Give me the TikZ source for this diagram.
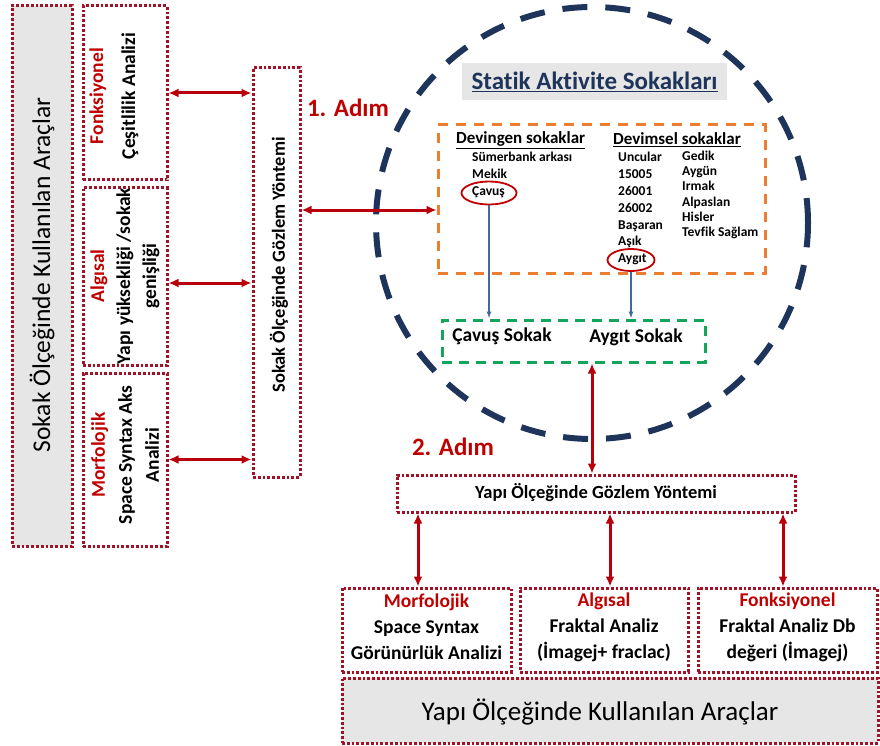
\documentclass[tikz,border=0pt]{standalone}
\usepackage{fontspec}
\setmainfont[Ligatures=NoCommon]{Carlito}
\usetikzlibrary{arrows.meta,shapes.geometric,calc}

\definecolor{dred}{RGB}{160,18,38}
\definecolor{ared}{RGB}{185,0,10}
\definecolor{tred}{RGB}{192,0,0}
\definecolor{navy}{RGB}{31,52,90}
\definecolor{lgray}{RGB}{230,230,230}
\definecolor{orng}{RGB}{237,125,49}
\definecolor{grn}{RGB}{20,165,90}
\definecolor{sblue}{RGB}{65,105,160}

\newcommand{\fsz}[2]{\fontsize{#1pt}{#2pt}\selectfont}

\tikzset{
  dotbox/.style={draw=dred, line width=3pt, dash pattern=on 2.8pt off 2pt, inner sep=0pt},
  grayfill/.style={fill=lgray},
  dar/.style={draw=ared, line width=3pt, {Latex[length=10pt,width=9pt]}-{Latex[length=10pt,width=9pt]}},
  barrow/.style={draw=sblue, line width=1.3pt, -{Latex[length=7pt,width=5pt]}},
  vtext/.style={rotate=90, align=center, inner sep=0pt},
  boxtext/.style={align=center, inner sep=0pt, font=\fsz{19.5}{26}\bfseries},
  item/.style={anchor=west, inner sep=0pt, text height=9.5pt, text depth=3pt, font=\fsz{13.5}{16}\bfseries},
  head/.style={anchor=west, inner sep=0pt, font=\fsz{17}{20}\bfseries},
  step label/.style={text=tred, font=\fsz{25}{30}\bfseries, inner sep=0pt},
  ring/.style={draw=tred, line width=1.8pt, ellipse, inner sep=0pt}
}

\begin{document}
\begin{tikzpicture}[x=1pt,y=-1pt]
\useasboundingbox (0,0) rectangle (880,746);

% ---- street-scale tools (left column) ----
\node[dotbox, grayfill, minimum width=60, minimum height=540] (lbig) at (42,276) {};
\node[vtext, font=\fsz{25.5}{30}] (ltitle) at (42,275) {Sokak Ölçeğinde Kullanılan Araçlar};

\node[dotbox, minimum width=84, minimum height=174] (b1) at (125,93) {};
\node[dotbox, minimum width=84, minimum height=177] (b2) at (125,276.5) {};
\node[dotbox, minimum width=84, minimum height=173] (b3) at (125,459.5) {};

\node[vtext, font=\fsz{19.5}{32}\bfseries] (t1) at (114,96)
  {\textcolor{tred}{Fonksiyonel}\\Çeşitlilik Analizi};
\node[vtext, font=\fsz{19.5}{26}\bfseries] (t2) at (125,276)
  {\textcolor{tred}{Algısal}\\Yapı yüksekliği /sokak\\genişliği};
\node[vtext, font=\fsz{19.5}{27}\bfseries] (t3) at (125,455)
  {\textcolor{tred}{Morfolojik}\\Space Syntax Aks\\Analizi};

% ---- street-scale observation ----
\node[dotbox, minimum width=47, minimum height=409] (mid) at (276.5,272.5) {};
\node[vtext, font=\fsz{18.5}{22}\bfseries] (midt) at (279,265) {Sokak Ölçeğinde Gözlem Yöntemi};

\coordinate (r2) at (0,283);
\coordinate (r4) at (0,210);
\draw[dar] (b1.east) -- (b1.east -| mid.west);
\draw[dar] (b2.east |- r2) -- (mid.west |- r2);
\draw[dar] (b3.east) -- (b3.east -| mid.west);

\node[step label] (step1) at (348,108) {1. Adım};
\node[step label] (step2) at (453,447) {2. Adım};

% ---- static activity streets ----
\node[circle, draw=navy, line width=6pt, dash pattern=on 25pt off 18pt,
      minimum size=432, inner sep=0pt] (circ) at (592,223) {};

\node[fill=lgray, minimum width=265, minimum height=37, inner sep=0pt,
      text=navy, font=\fsz{25}{28}\bfseries] (title) at (594.5,81.5)
  {\underline{Statik Aktivite Sokakları}};

\node[draw=orng, line width=3pt, dash pattern=on 10pt off 8pt,
      minimum width=327, minimum height=148, inner sep=0pt] (obox) at (601.5,199) {};

\node[head] (hdev) at (456,140) {\underline{Devingen sokaklar}};
\node[head] (hdvm) at (613,140) {\underline{Devimsel sokaklar}};

\node[item] (d1) at (472,158) {Sümerbank arkası};
\node[item] (d2) at (472,175) {Mekik};
\node[item] (d3) at (472,192) {Çavuş};

\node[item] (m1) at (618,158) {Uncular};
\node[item] (m2) at (618,175) {15005};
\node[item] (m3) at (618,192) {26001};
\node[item] (m4) at (618,209) {26002};
\node[item] (m5) at (618,226) {Başaran};
\node[item] (m6) at (618,242) {Aşık};
\node[item] (m7) at (618,259) {Aygıt};

\node[item] (n1) at (682,157) {Gedik};
\node[item] (n2) at (682,172) {Aygün};
\node[item] (n3) at (682,187) {Irmak};
\node[item] (n4) at (682,203) {Alpaslan};
\node[item] (n5) at (682,218) {Hisler};
\node[item] (n6) at (682,233) {Tevfik Sağlam};

\node[ring, minimum width=55, minimum height=23] (ecav) at (489,193) {};
\node[ring, minimum width=47, minimum height=22] (eayg) at (631,260) {};

\node[draw=grn, line width=3pt, dash pattern=on 10pt off 7pt,
      minimum width=263, minimum height=42, inner sep=0pt] (gbox) at (573.5,341) {};
\node[font=\fsz{19.5}{24}\bfseries, inner sep=0pt] (tcav) at (502,336) {Çavuş Sokak};
\node[font=\fsz{19.5}{24}\bfseries, inner sep=0pt] (tayg) at (636,337) {Aygıt Sokak};

\draw[barrow] (ecav.south) -- (ecav.south |- gbox.north);
\draw[barrow] (eayg.south) -- (eayg.south |- gbox.north);

\draw[dar] (mid.east |- r4) -- (obox.west |- r4);

% ---- building-scale observation ----
\node[dotbox, minimum width=398, minimum height=37] (ybox) at (596,493.5) {};
\node[font=\fsz{18.5}{22}\bfseries, inner sep=0pt] (ytext) at (596,493) {Yapı Ölçeğinde Gözlem Yöntemi};

\coordinate (c2) at (592,0);
\draw[dar] (gbox.south -| c2) -- (ybox.north -| c2);

\node[dotbox, minimum width=169, minimum height=84] (ba) at (426.5,630) {};
\node[dotbox, minimum width=168, minimum height=84] (bb) at (604,630) {};
\node[dotbox, minimum width=179, minimum height=84] (bc) at (787.5,630) {};

\node[boxtext] (ta) at (426.5,627) {\textcolor{tred}{Morfolojik}\\Space Syntax\\Görünürlük Analizi};
\node[boxtext] (tb) at (604,627) {\textcolor{tred}{Algısal}\\Fraktal Analiz\\(İmagej+ fraclac)};
\node[boxtext] (tc) at (787.5,627) {\textcolor{tred}{Fonksiyonel}\\Fraktal Analiz Db\\değeri (İmagej)};

\coordinate (xa) at (418,0);
\coordinate (xb) at (610,0);
\coordinate (xc) at (783,0);
\draw[dar] (ybox.south -| xa) -- (ba.north -| xa);
\draw[dar] (ybox.south -| xb) -- (bb.north -| xb);
\draw[dar] (ybox.south -| xc) -- (bc.north -| xc);

\node[dotbox, grayfill, minimum width=536, minimum height=65] (bbig) at (610,710.5) {};
\node[font=\fsz{27}{32}, inner sep=0pt] (btitle) at (600,712) {Yapı Ölçeğinde Kullanılan Araçlar};
\end{tikzpicture}
\end{document}
